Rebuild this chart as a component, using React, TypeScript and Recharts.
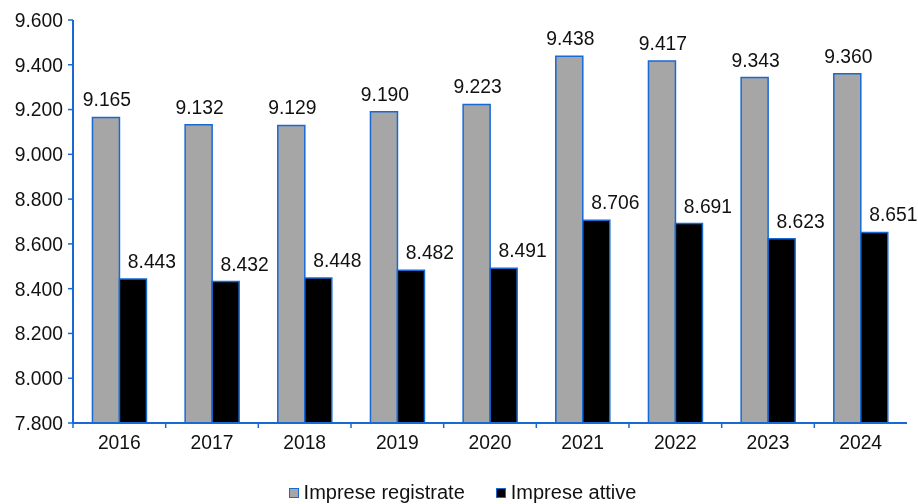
import { Bar, BarChart, LabelList, Legend, XAxis, YAxis } from "recharts"

const years = ["2016", "2017", "2018", "2019", "2020", "2021", "2022", "2023", "2024"]
const registrate = [9165, 9132, 9129, 9190, 9223, 9438, 9417, 9343, 9360]
const attive = [8443, 8432, 8448, 8482, 8491, 8706, 8691, 8623, 8651]
const yTicks = [7800, 8000, 8200, 8400, 8600, 8800, 9000, 9200, 9400, 9600]

const data = years.map((year, i) => ({ year, registrate: registrate[i], attive: attive[i] }))

const BLUE = "#1769d6"
const FONT = "'Liberation Sans', Arial, sans-serif"
const FS = 19.3

const fmt = (v: number) => String(v).replace(/\B(?=(\d{3})+(?!\d))/g, ".")

function XTick(props: any) {
  const { x, y, payload } = props
  const off = payload.offset || 0
  return (
    <g>
      <line x1={x - off} y1={y - 8} x2={x - off} y2={y - 3} stroke={BLUE} strokeWidth={1.5} />
      <text x={x} y={y + 18} textAnchor="middle" fontSize={FS} fill="#111" fontFamily={FONT}>
        {payload.value}
      </text>
    </g>
  )
}

// value labels above bars; the black series sits shifted right like the original
const barLabel = (shift: number) => (p: any) => (
  <text
    x={p.x + p.width / 2 + shift}
    y={p.y - 11}
    textAnchor="middle"
    fontSize={FS}
    fill="#111"
    fontFamily={FONT}
  >
    {fmt(p.value)}
  </text>
)

function LegendBox() {
  const items = [
    { name: "Imprese registrate", color: "#a6a6a6" },
    { name: "Imprese attive", color: "#000000" },
  ]
  return (
    <div style={{ display: "flex", justifyContent: "center", gap: 31, fontFamily: FONT, fontSize: 20, color: "#111", paddingLeft: 10, paddingTop: 22 }}>
      {items.map((it) => (
        <span key={it.name} style={{ display: "flex", alignItems: "center" }}>
          <span style={{ width: 8, height: 8, background: it.color, border: `1.5px solid ${BLUE}`, marginRight: 5, display: "inline-block" }} />
          {it.name}
        </span>
      ))}
    </div>
  )
}

export default function App() {
  return (
    // fixed so the page never grows a scrollbar that would clip the right edge
    <div style={{ position: "fixed", left: 8, top: 8 }}>
      <BarChart
        width={910}
        height={496}
        data={data}
        margin={{ top: 12, right: 11, left: 0, bottom: 0 }}
        barCategoryGap="21%"
        barGap={0}
        style={{ overflow: "visible" }}
      >
        <XAxis
          dataKey="year"
          axisLine={{ stroke: BLUE, strokeWidth: 2 }}
          tickLine={false}
          tick={<XTick />}
          height={36}
          interval={0}
        />
        <YAxis
          domain={[7800, 9600]}
          ticks={yTicks}
          tickFormatter={fmt}
          width={65}
          axisLine={{ stroke: BLUE, strokeWidth: 2 }}
          tickLine={{ stroke: BLUE, strokeWidth: 1.5 }}
          tickSize={5}
          tickMargin={5}
          tick={{ fontSize: FS, fill: "#111", fontFamily: FONT }}
        />
        <Legend verticalAlign="bottom" height={45} content={<LegendBox />} />
        <Bar dataKey="registrate" name="Imprese registrate" fill="#a6a6a6" stroke={BLUE} strokeWidth={1.5} isAnimationActive={false}>
          <LabelList dataKey="registrate" content={barLabel(1)} />
        </Bar>
        <Bar dataKey="attive" name="Imprese attive" fill="#000000" stroke={BLUE} strokeWidth={1.5} isAnimationActive={false}>
          <LabelList dataKey="attive" content={barLabel(19)} />
        </Bar>
      </BarChart>
    </div>
  )
}
